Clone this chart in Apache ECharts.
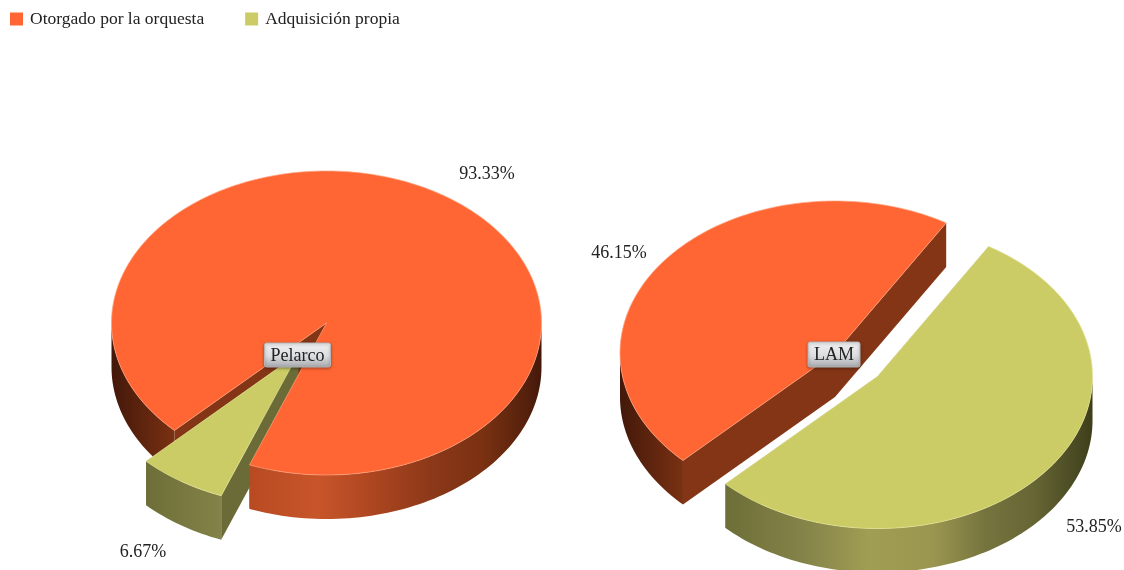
<!DOCTYPE html>
<html><head><meta charset="utf-8">
<style>html,body{margin:0;padding:0;background:#fff}#c{width:1124px;height:570px;filter:blur(0.5px)}</style>
<script src="https://cdn.jsdelivr.net/npm/echarts@6/dist/echarts.min.js"></script>
</head><body><div id="c"></div>
<script>
const categories = ['Pelarco', 'LAM'];
const seriesNames = ['Otorgado por la orquesta', 'Adquisición propia'];
const otorgado = [93.33, 46.15];
const adquisicion = [6.67, 53.85];

const FONT = '"Liberation Serif","Times New Roman",serif';
const RX = 215, RY = 152, DEPTH = 44, START = 225;
const pieLayout = [
  { cx: 326.5, cy: 323, explode: 52, tag: [297.5, 355, 66, 24], lab: [[487, 174], [143, 552.5]] },
  { cx: 835, cy: 353, explode: 54, tag: [834, 354.5, 52, 25], lab: [[619, 253], [1094, 527.5]] }
];
const palette = [
  { top: '#ff6633', rim: '#ffa27e', side: '#833516',
    stops: ['#43180a', '#7a3112', '#b84a22', '#c8552a', '#a8431f', '#8a3818', '#7a3112', '#54200c', '#43180a'] },
  { top: '#cccc66', rim: '#e2e296', side: '#6a6b36',
    stops: ['#3a3a18', '#6d6e38', '#838248', '#a09d54', '#9a9650', '#76743e', '#666534', '#484822', '#3e3e1a'] }
];
const stopAt = [0, 0.147, 0.32, 0.48, 0.63, 0.75, 0.865, 0.967, 1];
// stacking of the faces: the exploded wedge's walls tuck under the other wedge's rim and top
const Z = [{ radial: 1, outer: 3, top: 3 }, { radial: 2, outer: 2, top: 4 }];
const rad = d => d * Math.PI / 180;

function wedge(seriesIdx, pieIdx, value) {
  const L = pieLayout[pieIdx], P = palette[seriesIdx], ZZ = Z[seriesIdx];
  const a0 = seriesIdx === 0 ? START : START + otorgado[pieIdx] * 3.6;
  const a1 = a0 + value * 3.6;
  let cx = L.cx, cy = L.cy;
  if (seriesIdx === 1) {
    const m = rad((a0 + a1) / 2);
    cx += Math.sin(m) * L.explode;
    cy -= Math.cos(m) * L.explode * RY / RX;
  }
  const pt = (a, dz) => [cx + RX * Math.sin(rad(a)), cy - RY * Math.cos(rad(a)) + (dz || 0)];
  const arc = (s, e, dz) => {
    const n = Math.max(2, Math.ceil((e - s) / 1.5)), out = [];
    for (let i = 0; i <= n; i++) out.push(pt(s + (e - s) * i / n, dz));
    return out;
  };
  const kids = [];
  [a0, a1].forEach(a => {
    kids.push({ type: 'polygon', z2: ZZ.radial, shape: { points: [[cx, cy], pt(a), pt(a, DEPTH), [cx, cy + DEPTH]] },
      style: { fill: P.side } });
  });
  for (let k = 0; k < 2; k++) {
    const s = Math.max(a0, 90 + 360 * k), e = Math.min(a1, 270 + 360 * k);
    if (e > s) {
      const pts = arc(s, e, 0).concat(arc(s, e, DEPTH).reverse());
      kids.push({ type: 'polygon', z2: ZZ.outer, shape: { points: pts },
        style: { fill: new echarts.graphic.LinearGradient(cx - RX, 0, cx + RX, 0,
          P.stops.map((c, i) => ({ offset: stopAt[i], color: c })), true) } });
    }
  }
  kids.push({ type: 'polygon', z2: ZZ.top, shape: { points: [[cx, cy]].concat(arc(a0, a1, 0)) },
    style: { fill: P.top, stroke: P.rim, lineWidth: 0.7, lineJoin: 'round' } });
  const lab = L.lab[seriesIdx];
  kids.push({ type: 'text', z2: 20, style: { text: value.toFixed(2) + '%', x: lab[0], y: lab[1],
    fill: '#222', font: '18px ' + FONT, textAlign: 'center', textVerticalAlign: 'middle' } });
  return { type: 'group', children: kids };
}

function tag(pieIdx) {
  const L = pieLayout[pieIdx], [x, y, w, h] = L.tag;
  return { type: 'group', children: [
    { type: 'rect', z2: 30, shape: { x: x - w / 2, y: y - h / 2, width: w, height: h, r: 2 },
      style: { fill: new echarts.graphic.LinearGradient(0, 0, 0, 1, [
        { offset: 0, color: '#f2f2f2' }, { offset: 0.55, color: '#dcdde0' }, { offset: 1, color: '#a6a7ab' }]),
        stroke: '#b5b5b5', lineWidth: 1, shadowBlur: 3, shadowColor: 'rgba(0,0,0,0.35)', shadowOffsetY: 1 } },
    { type: 'text', z2: 31, style: { text: categories[pieIdx], x: x, y: y + 1, fill: '#222', font: '18px ' + FONT,
      textAlign: 'center', textVerticalAlign: 'middle' } }
  ] };
}

const chart = echarts.init(document.getElementById('c'), null, { renderer: 'canvas' });
const mk = (i, arr) => ({
  type: 'custom', name: seriesNames[i], coordinateSystem: 'none', silent: true, z: 2,
  itemStyle: { color: palette[i].top }, data: arr, clip: false,
  renderItem: (params, api) => wedge(i, params.dataIndex, api.value(0))
});
chart.setOption({
  animation: false,
  backgroundColor: '#fff',
  legend: {
    data: seriesNames, left: 10, top: 10, icon: 'rect', itemWidth: 13, itemHeight: 13, itemGap: 41,
    selectedMode: false, textStyle: { fontFamily: FONT, fontSize: 17.5, color: '#222', padding: [0, 0, 0, 2] }, padding: 0
  },
  series: [
    mk(0, otorgado), mk(1, adquisicion),
    { type: 'custom', name: 'tags', coordinateSystem: 'none', silent: true, z: 2, data: categories.map((c, i) => i),
      renderItem: (params) => tag(params.dataIndex) }
  ]
});
</script></body></html>
